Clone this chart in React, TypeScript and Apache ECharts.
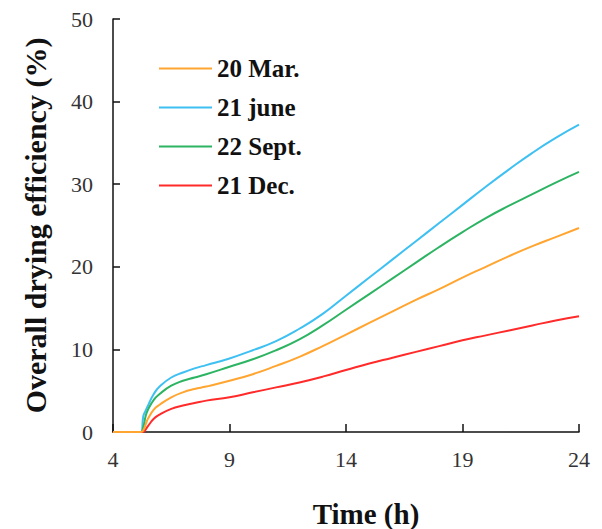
import React, { useEffect, useRef } from "react";
import * as echarts from "echarts";

const hours = [4, 5, 5.2, 5.3, 5.4, 5.5, 5.75, 6, 6.5, 7, 7.5, 8, 9, 10, 11, 12, 13, 14, 15, 16, 17, 18, 19, 20, 21, 22, 23, 24];
const mar20 = [0, 0, 0, 0.2, 0.9, 1.6, 2.7, 3.3, 4.2, 4.8, 5.2, 5.5, 6.2, 7.0, 8.0, 9.1, 10.4, 11.8, 13.2, 14.6, 16.0, 17.3, 18.7, 20.0, 21.3, 22.5, 23.6, 24.7];
const june21 = [0, 0, 0, 1.9, 2.6, 3.2, 4.6, 5.5, 6.6, 7.2, 7.7, 8.1, 8.9, 9.9, 11.0, 12.5, 14.3, 16.5, 18.7, 20.9, 23.1, 25.3, 27.5, 29.7, 31.8, 33.8, 35.6, 37.2];
const sept22 = [0, 0, 0, 0.6, 1.9, 2.7, 3.9, 4.6, 5.6, 6.2, 6.6, 7.0, 7.9, 8.8, 9.9, 11.2, 12.9, 14.8, 16.7, 18.6, 20.5, 22.4, 24.2, 25.9, 27.4, 28.8, 30.2, 31.5];
const dec21 = [0, 0, 0, 0, 0.3, 0.7, 1.6, 2.1, 2.8, 3.2, 3.5, 3.8, 4.2, 4.8, 5.4, 6.0, 6.7, 7.5, 8.3, 9.0, 9.7, 10.4, 11.1, 11.7, 12.3, 12.9, 13.5, 14.0];

const seriesNames = ["20 Mar.", "21 june", "22 Sept.", "21 Dec."];
const seriesData = [mar20, june21, sept22, dec21];
const colors = ["#FFA530", "#3EC0F2", "#2DB463", "#FF2A2A"];

const SERIF = "'Liberation Serif', 'Times New Roman', serif";

export default function App() {
  const ref = useRef<HTMLDivElement>(null);
  useEffect(() => {
    if (!ref.current) return;
    const chart = echarts.init(ref.current, undefined, { renderer: "svg" });
    chart.setOption({
      animation: false,
      backgroundColor: "#ffffff",
      grid: { left: 113, right: 23, top: 19, bottom: 97, containLabel: false, outerBoundsMode: "none" },
      legend: {
        data: seriesNames.map((n) => ({ name: n, icon: "rect" })),
        orient: "vertical",
        left: 154,
        top: 51,
        itemWidth: 53,
        itemHeight: 2,
        itemGap: 14,
        textStyle: { fontFamily: SERIF, fontWeight: "bold", fontSize: 25, color: "#111", lineHeight: 24 },
      },
      xAxis: {
        type: "value",
        min: 4,
        max: 24,
        interval: 5,
        name: "Time (h)",
        nameLocation: "middle",
        nameGap: 67,
        nameTextStyle: { fontFamily: SERIF, fontWeight: "bold", fontSize: 29, color: "#111", padding: [0, 0, 0, 40] },
        axisLine: { show: true, lineStyle: { color: "#111", width: 1.5 } },
        axisTick: { show: true, inside: true, length: 8, lineStyle: { color: "#111", width: 1.5 } },
        axisLabel: { fontFamily: SERIF, fontSize: 22, color: "#333", margin: 16 },
        splitLine: { show: false },
      },
      yAxis: {
        type: "value",
        min: 0,
        max: 50,
        interval: 10,
        name: "Overall drying efficiency (%)",
        nameLocation: "middle",
        nameGap: 63,
        nameTextStyle: { fontFamily: SERIF, fontWeight: "bold", fontSize: 30, color: "#111" },
        axisLine: { show: true, lineStyle: { color: "#111", width: 1.5 } },
        axisTick: { show: true, inside: true, length: 7, lineStyle: { color: "#111", width: 1.5 } },
        axisLabel: { fontFamily: SERIF, fontSize: 22, color: "#333", margin: 20 },
        splitLine: { show: false },
      },
      series: seriesNames.map((name, i) => ({
        name,
        type: "line",
        data: hours.map((h, j) => [h, seriesData[i][j]]),
        symbol: "none",
        smooth: 0.5,
        z: i === 0 ? 5 : 2,
        lineStyle: { color: colors[i], width: 2 },
        itemStyle: { color: colors[i] },
      })),
    });
    return () => chart.dispose();
  }, []);
  return <div ref={ref} style={{ position: "fixed", left: 0, top: 0, width: 602, height: 529 }} />;
}
